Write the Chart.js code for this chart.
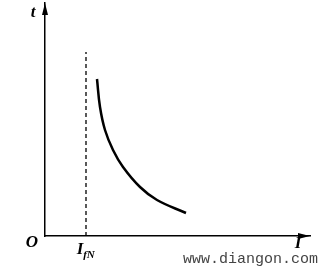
<!DOCTYPE html>
<html lang="en">
<head>
    <meta charset="UTF-8">
    <title>t - I curve</title>
    <script src="https://cdn.jsdelivr.net/npm/chart.js@4.4.1/dist/chart.umd.min.js"></script>
    <style>
        html, body { margin: 0; padding: 0; background: #fff; }
        .container { width: 323px; height: 273px; }
    </style>
</head>
<body>
    <div class="container">
        <canvas id="myChart" width="323" height="273"></canvas>
    </div>
    <script>
    // curve values (x = current I, y = time t)
    var curveI = [52, 55, 60, 68, 78, 95, 112, 141];
    var curveT = [157, 129, 106, 86, 69, 49, 36, 23];
    // dashed line at the rated current I_fN
    var ratedI = 41;
    var ratedTop = 184;
    var xMax = 265;
    var yMax = 233;

    var curveData = [];
    for (var i = 0; i < curveI.length; i++) {
        curveData.push({ x: curveI[i], y: curveT[i] });
    }

    var labelsPlugin = {
        id: 'axisLabels',
        afterDraw: function (chart) {
            var ctx = chart.ctx;
            var a = chart.chartArea;
            var xs = chart.scales.x;
            ctx.save();
            ctx.fillStyle = '#000';
            // arrow heads
            ctx.beginPath();
            ctx.moveTo(a.left, a.top);
            ctx.lineTo(a.left - 3, a.top + 12);
            ctx.lineTo(a.left + 3, a.top + 12);
            ctx.closePath();
            ctx.fill();
            ctx.beginPath();
            ctx.moveTo(a.right, a.bottom);
            ctx.lineTo(a.right - 12, a.bottom - 3);
            ctx.lineTo(a.right - 12, a.bottom + 3);
            ctx.closePath();
            ctx.fill();

            ctx.font = 'italic bold 17px "Liberation Serif"';
            ctx.textAlign = 'center';
            ctx.textBaseline = 'middle';
            ctx.fillText('t', a.left - 12, a.top + 10);
            ctx.fillText('O', a.left - 13, a.bottom + 7);
            ctx.fillText('I', a.right - 12, a.bottom + 8);
            var px = xs.getPixelForValue(ratedI);
            ctx.fillText('I', px - 6, a.bottom + 14);
            ctx.font = 'italic bold 11px "Liberation Serif"';
            ctx.fillText('fN', px + 3, a.bottom + 19);

            ctx.font = '15px "Liberation Mono"';
            ctx.fillStyle = '#444';
            ctx.textAlign = 'left';
            ctx.fillText('www.diangon.com', 183, 259);
            ctx.restore();
        }
    };

    var ctx = document.getElementById('myChart').getContext('2d');
    var myChart = new Chart(ctx, {
        type: 'scatter',
        data: {
            datasets: [{
                data: curveData,
                showLine: true,
                tension: 0.4,
                borderColor: '#000',
                borderWidth: 2.5,
                pointRadius: 0
            }, {
                data: [{ x: ratedI, y: 0 }, { x: ratedI, y: ratedTop }],
                showLine: true,
                borderColor: '#000',
                borderWidth: 1.3,
                borderDash: [4, 3],
                pointRadius: 0
            }]
        },
        options: {
            responsive: false,
            animation: false,
            layout: { padding: { left: 37, top: 3, right: 13, bottom: 29 } },
            plugins: { legend: { display: false }, tooltip: { enabled: false } },
            scales: {
                x: {
                    min: 0, max: xMax,
                    ticks: { display: false },
                    grid: { display: false },
                    border: { display: true, color: '#000', width: 1.5 }
                },
                y: {
                    min: 0, max: yMax,
                    ticks: { display: false },
                    grid: { display: false },
                    border: { display: true, color: '#000', width: 1.5 }
                }
            }
        },
        plugins: [labelsPlugin]
    });
    </script>
</body>
</html>
